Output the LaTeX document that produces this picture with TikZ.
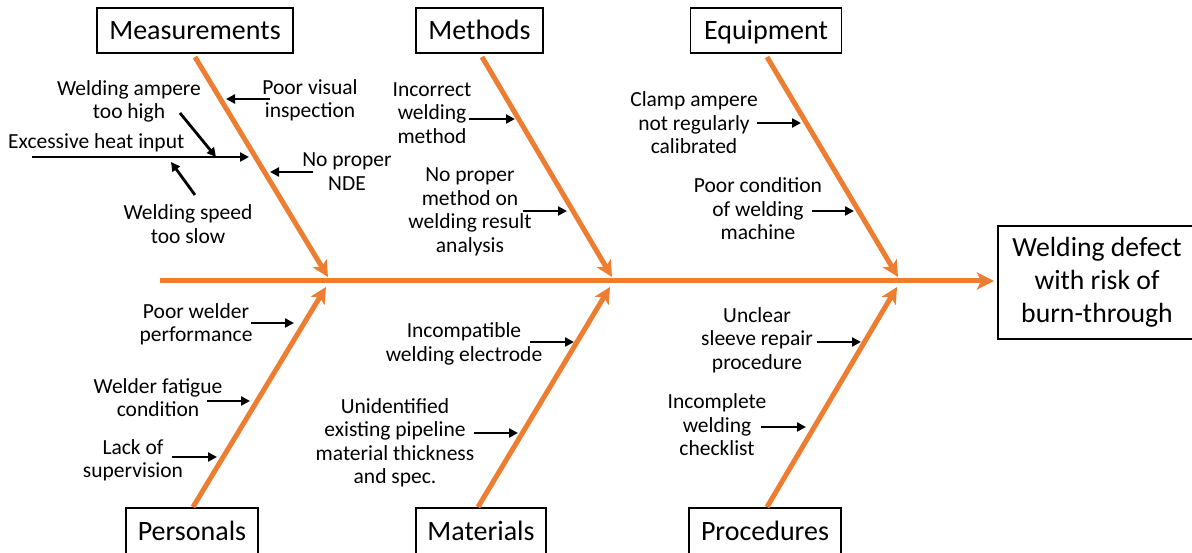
\documentclass[tikz,border=0pt]{standalone}
\usepackage{fontspec}
\setmainfont{Carlito}
\usetikzlibrary{arrows.meta}
\definecolor{bonecol}{HTML}{ED7D31}
\begin{document}
\begin{tikzpicture}[x=1pt,y=-1pt,
  lbl/.style={font=\fontsize{21.5}{23.5}\selectfont, align=center, inner sep=0pt},
  catbox/.style={draw=black, line width=1.2pt, font=\fontsize{28}{33}\selectfont,
    inner sep=0pt, minimum height=45pt, text height=20pt, text depth=1pt},
  headbox/.style={draw=black, line width=1.2pt, font=\fontsize{27.7}{33}\selectfont,
    align=center, inner sep=0pt, minimum width=198pt, minimum height=113pt},
  bone/.style={draw=bonecol, line width=5pt, -{Stealth[length=16pt,width=16pt,inset=4pt]}},
  spine/.style={draw=bonecol, line width=5pt, -{Stealth[length=17pt,width=17pt,inset=4pt]}},
  cause/.style={draw=black, line width=2.8pt, -{Triangle[length=9pt,width=9pt]}}]
\useasboundingbox (0,0) rectangle (1192,553);

% category boxes
\node[catbox, minimum width=196pt] (meas) at (195,30.5) {Measurements};
\node[catbox, minimum width=127pt] (meth) at (479.5,30.5) {Methods};
\node[catbox, minimum width=151pt] (equi) at (766,30.5) {Equipment};
\node[catbox, minimum width=132pt, minimum height=46pt] (pers) at (192,531) {Personals};
\node[catbox, minimum width=130pt, minimum height=46pt] (mate) at (481,531) {Materials};
\node[catbox, minimum width=152pt, minimum height=46pt] (proc) at (765,531) {Procedures};
\node[headbox] (head) at (1097,282.5) {Welding defect\\with risk of\\burn-through};

% spine and bones
\coordinate (sp0) at (160,281);
\coordinate (spT) at (994,281);
\coordinate (b1s) at (195,57);  \coordinate (b1e) at (328,277);
\coordinate (b2s) at (482,57);  \coordinate (b2e) at (612,277);
\coordinate (b3s) at (767,57);  \coordinate (b3e) at (898,277);
\coordinate (b4s) at (193,507); \coordinate (b4e) at (326,287);
\coordinate (b5s) at (478,507); \coordinate (b5e) at (610,287);
\coordinate (b6s) at (767,507); \coordinate (b6e) at (897,287);
\draw[spine] (sp0) -- (spT);
\draw[bone] (b1s) -- (b1e);
\draw[bone] (b2s) -- (b2e);
\draw[bone] (b3s) -- (b3e);
\draw[bone] (b4s) -- (b4e);
\draw[bone] (b5s) -- (b5e);
\draw[bone] (b6s) -- (b6e);

% Measurements causes
\node[lbl] (mpv) at (310,100.5) {Poor visual\\inspection};
\node[lbl] (mnde) at (347,171.5) {No proper\\NDE};
\node[lbl, anchor=west] (mheat) at (8,143) {Excessive heat input};
\node[lbl] (mamp) at (129,101.5) {Welding ampere\\too high};
\node[lbl] (mspd) at (188,224) {Welding speed\\too slow};
\coordinate (c1a) at (270,99);  \coordinate (c1b) at (226,99);
\coordinate (c2a) at (313,172); \coordinate (c2b) at (270,172);
\coordinate (c3a) at (32,157);  \coordinate (c3b) at (249,157);
\coordinate (c4a) at (180,113); \coordinate (c4b) at (216,157);
\coordinate (c5a) at (195,195); \coordinate (c5b) at (171,162);
\draw[cause] (c1a) -- (c1b);
\draw[cause] (c2a) -- (c2b);
\draw[cause] (c3a) -- (c3b);
\draw[cause] (c4a) -- (c4b);
\draw[cause] (c5a) -- (c5b);

% Methods causes
\node[lbl] (minc) at (432,113) {Incorrect\\welding\\method};
\node[lbl] (mres) at (470,212) {No proper\\method on\\welding result\\analysis};
\coordinate (d1a) at (469,119); \coordinate (d1b) at (515,119);
\coordinate (d2a) at (523,211); \coordinate (d2b) at (567,211);
\draw[cause] (d1a) -- (d1b);
\draw[cause] (d2a) -- (d2b);

% Equipment causes
\node[lbl] (eclamp) at (694,123) {Clamp ampere\\not regularly\\calibrated};
\node[lbl] (emach) at (758,209) {Poor condition\\of welding\\machine};
\coordinate (e1a) at (757,123); \coordinate (e1b) at (801,123);
\coordinate (e2a) at (812,211); \coordinate (e2b) at (854,211);
\draw[cause] (e1a) -- (e1b);
\draw[cause] (e2a) -- (e2b);

% Personals causes
\node[lbl] (pperf) at (196,324.5) {Poor welder\\performance};
\node[lbl] (pfat) at (158,397.5) {Welder fatigue\\condition};
\node[lbl] (psup) at (133,460.5) {Lack of\\supervision};
\coordinate (f1a) at (251,323); \coordinate (f1b) at (294,323);
\coordinate (f2a) at (207,401); \coordinate (f2b) at (250,401);
\coordinate (f3a) at (172,457); \coordinate (f3b) at (217,457);
\draw[cause] (f1a) -- (f1b);
\draw[cause] (f2a) -- (f2b);
\draw[cause] (f3a) -- (f3b);

% Materials causes
\node[lbl] (melec) at (464,344) {Incompatible\\welding electrode};
\node[lbl] (mpipe) at (395,443) {Unidentified\\existing pipeline\\material thickness\\and spec.};
\coordinate (g1a) at (530,342); \coordinate (g1b) at (574,342);
\coordinate (g2a) at (474,433); \coordinate (g2b) at (518,433);
\draw[cause] (g1a) -- (g1b);
\draw[cause] (g2a) -- (g2b);

% Procedures causes
\node[lbl] (psleeve) at (757,340) {Unclear\\sleeve repair\\procedure};
\node[lbl] (pcheck) at (717,425) {Incomplete\\welding\\checklist};
\coordinate (h1a) at (817,342); \coordinate (h1b) at (861,342);
\coordinate (h2a) at (761,427); \coordinate (h2b) at (806,427);
\draw[cause] (h1a) -- (h1b);
\draw[cause] (h2a) -- (h2b);
\end{tikzpicture}
\end{document}
